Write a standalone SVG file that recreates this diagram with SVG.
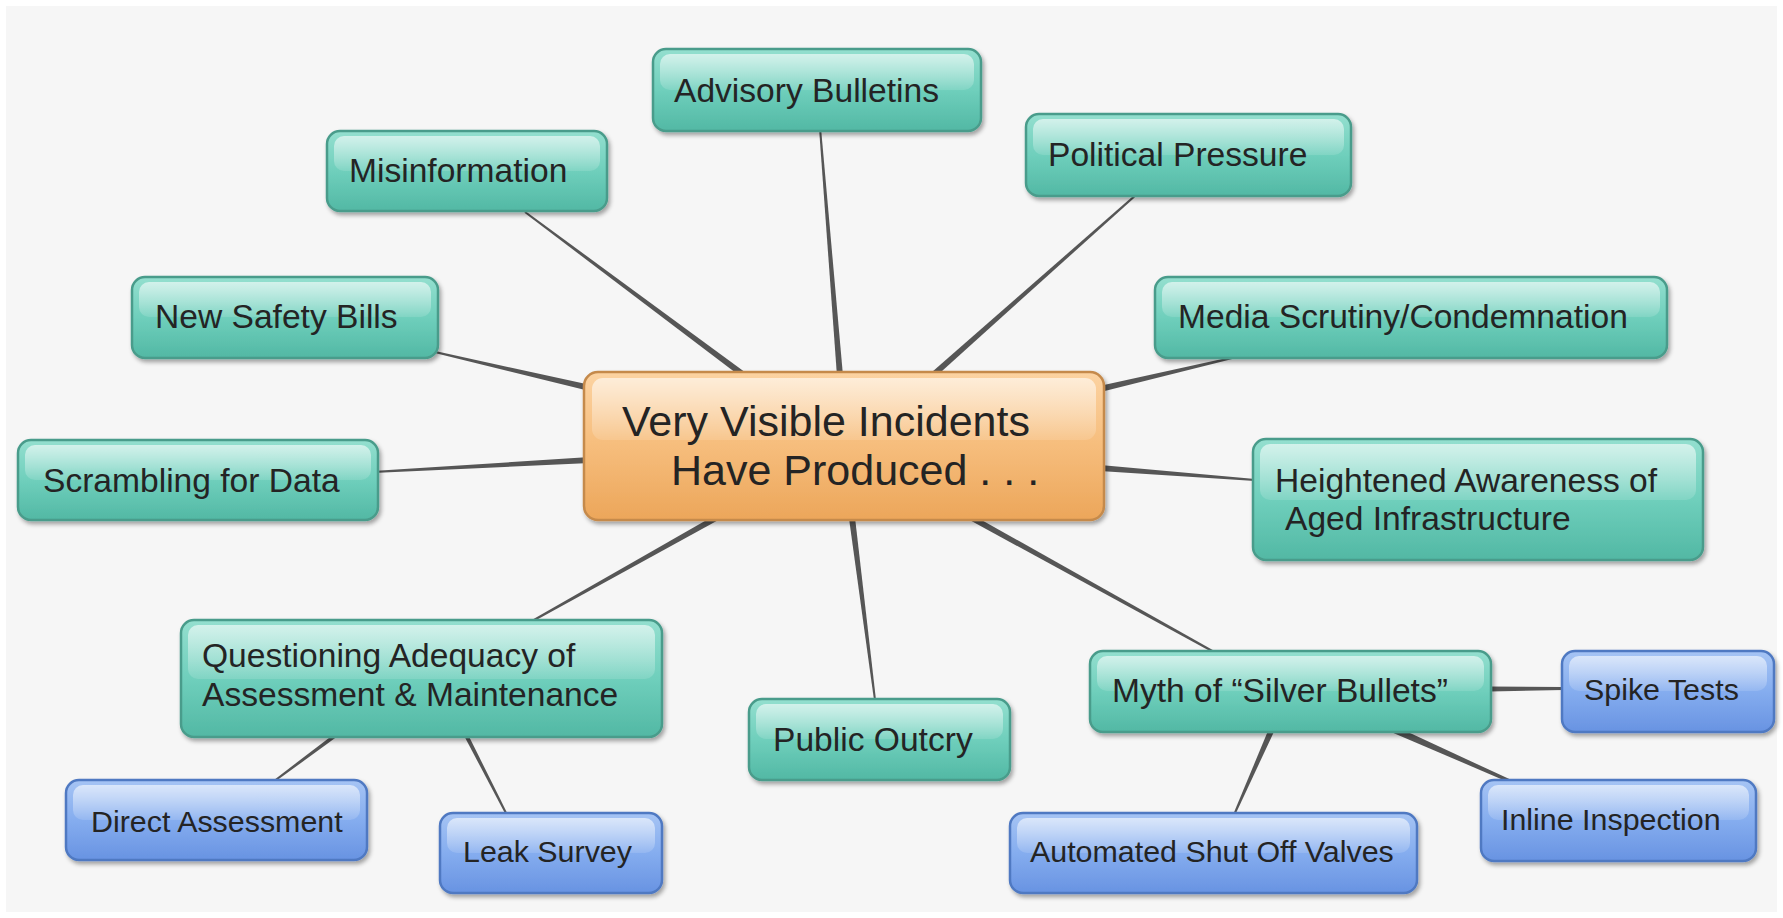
<svg xmlns="http://www.w3.org/2000/svg" width="1783" height="918" viewBox="0 0 1783 918">
  <defs>
    <linearGradient id="tealFill" x1="0" y1="0" x2="0" y2="1">
      <stop offset="0" stop-color="#94dfcf"/>
      <stop offset="0.5" stop-color="#6fcfbc"/>
      <stop offset="1" stop-color="#52b8a4"/>
    </linearGradient>
    <linearGradient id="blueFill" x1="0" y1="0" x2="0" y2="1">
      <stop offset="0" stop-color="#a6c4f4"/>
      <stop offset="0.5" stop-color="#85adef"/>
      <stop offset="1" stop-color="#6893e2"/>
    </linearGradient>
    <linearGradient id="orangeFill" x1="0" y1="0" x2="0" y2="1">
      <stop offset="0" stop-color="#fcd3a2"/>
      <stop offset="0.5" stop-color="#f6bd7c"/>
      <stop offset="1" stop-color="#eca65a"/>
    </linearGradient>
    <linearGradient id="gloss" x1="0" y1="0" x2="0" y2="1">
      <stop offset="0" stop-color="#ffffff" stop-opacity="0.6"/>
      <stop offset="1" stop-color="#ffffff" stop-opacity="0.12"/>
    </linearGradient>
    <filter id="shadow" x="-10%" y="-10%" width="120%" height="140%">
      <feDropShadow dx="2" dy="3" stdDeviation="2" flood-color="#000" flood-opacity="0.35"/>
    </filter>
  </defs>
  <style>
    .teal { fill: url(#tealFill); stroke: #4a9c8b; stroke-width: 2.5; filter: url(#shadow); }
    .blue { fill: url(#blueFill); stroke: #4f79c2; stroke-width: 2.5; filter: url(#shadow); }
    .orange { fill: url(#orangeFill); stroke: #c58a4c; stroke-width: 2.5; filter: url(#shadow); }
    .gloss { fill: url(#gloss); }
    .lbl { font-family: "Liberation Sans", Arial, sans-serif; fill: #242424; }
    .t33 { font-size: 33.6px; }
    .t30 { font-size: 30.4px; }
    .t42 { font-size: 43px; }
    .wire { fill: #565656; }
  </style>

  <!-- paper background -->
  <rect x="0" y="0" width="1783" height="918" fill="#ffffff"/>
  <rect x="6" y="6" width="1771" height="906" fill="#f6f6f6"/>

  <!-- tapered connectors, thick at the hub end -->
  <g id="connectors" class="wire">
    <polygon points="524.4,212.8 743.2,378.4 746.8,373.6 525.6,211.2"/>
    <polygon points="819,128.1 837,376.2 843,375.8 821,127.9"/>
    <polygon points="1136.3,193.3 930,373.8 934,378.2 1137.7,194.7"/>
    <polygon points="434.8,353 589.3,390.9 590.7,385.1 435.2,351"/>
    <polygon points="1235.8,356 1099.3,386.1 1100.7,391.9 1236.2,358"/>
    <polygon points="373.1,473 590.2,463 589.8,457 372.9,471"/>
    <polygon points="1255.1,479 1100.2,465 1099.8,471 1254.9,481"/>
    <polygon points="534.5,620.9 717.5,520.6 714.5,515.4 533.5,619.1"/>
    <polygon points="876,699.9 855,517.6 849,518.4 874,700.1"/>
    <polygon points="1214.5,651.1 973.5,515.4 970.5,520.6 1213.5,652.9"/>
    <polygon points="1563,687 1490,686.5 1490,691.5 1563,690"/>
    <polygon points="1234.9,815.4 1274.7,730.2 1269.3,727.8 1233.1,814.6"/>
    <polygon points="1512.6,780.6 1394.4,725.8 1391.6,732.2 1511.4,783.4"/>
    <polygon points="273.6,782.8 337.2,736.6 334.8,733.4 272.4,781.2"/>
    <polygon points="507.9,814.5 467.8,734.1 464.2,735.9 506.1,815.5"/>
  </g>

  <g id="advisory-bulletins">
    <rect class="teal" x="653" y="49" width="328" height="82" rx="13"/>
    <rect class="gloss" x="660" y="54" width="314" height="36" rx="10"/>
    <text class="lbl t33" x="674" y="102">Advisory Bulletins</text>
  </g>

  <g id="misinformation">
    <rect class="teal" x="327" y="131" width="280" height="80" rx="13"/>
    <rect class="gloss" x="334" y="136" width="266" height="35" rx="10"/>
    <text class="lbl t33" x="349" y="182">Misinformation</text>
  </g>

  <g id="political-pressure">
    <rect class="teal" x="1026" y="114" width="325" height="82" rx="13"/>
    <rect class="gloss" x="1033" y="119" width="311" height="36" rx="10"/>
    <text class="lbl t33" x="1048" y="166">Political Pressure</text>
  </g>

  <g id="new-safety-bills">
    <rect class="teal" x="132" y="277" width="306" height="81" rx="13"/>
    <rect class="gloss" x="139" y="282" width="292" height="35" rx="10"/>
    <text class="lbl t33" x="155" y="328">New Safety Bills</text>
  </g>

  <g id="media-scrutiny">
    <rect class="teal" x="1155" y="277" width="512" height="81" rx="13"/>
    <rect class="gloss" x="1162" y="282" width="498" height="35" rx="10"/>
    <text class="lbl t33" x="1178" y="328">Media Scrutiny/Condemnation</text>
  </g>

  <g id="scrambling-for-data">
    <rect class="teal" x="18" y="440" width="360" height="80" rx="13"/>
    <rect class="gloss" x="25" y="445" width="346" height="35" rx="10"/>
    <text class="lbl t33" x="43" y="492">Scrambling for Data</text>
  </g>

  <g id="central-topic">
    <rect class="orange" x="584" y="372" width="520" height="148" rx="14"/>
    <rect class="gloss" x="592" y="378" width="504" height="62" rx="11"/>
    <text class="lbl t42" x="622" y="436">Very Visible Incidents</text>
    <text class="lbl t42" x="671" y="485">Have Produced . . .</text>
  </g>

  <g id="heightened-awareness">
    <rect class="teal" x="1253" y="439" width="450" height="121" rx="13"/>
    <rect class="gloss" x="1260" y="444" width="436" height="56" rx="10"/>
    <text class="lbl t33" x="1275" y="492">Heightened Awareness of</text>
    <text class="lbl t33" x="1285" y="530">Aged Infrastructure</text>
  </g>

  <g id="questioning-adequacy">
    <rect class="teal" x="181" y="620" width="481" height="117" rx="13"/>
    <rect class="gloss" x="188" y="625" width="467" height="54" rx="10"/>
    <text class="lbl t33" x="202" y="667">Questioning Adequacy of</text>
    <text class="lbl t33" x="202" y="706">Assessment &amp; Maintenance</text>
  </g>

  <g id="public-outcry">
    <rect class="teal" x="749" y="699" width="261" height="81" rx="13"/>
    <rect class="gloss" x="756" y="704" width="247" height="35" rx="10"/>
    <text class="lbl t33" x="773" y="751">Public Outcry</text>
  </g>

  <g id="silver-bullets">
    <rect class="teal" x="1090" y="651" width="401" height="81" rx="13"/>
    <rect class="gloss" x="1097" y="656" width="387" height="35" rx="10"/>
    <text class="lbl t33" x="1112" y="702">Myth of “Silver Bullets”</text>
  </g>

  <g id="spike-tests">
    <rect class="blue" x="1562" y="651" width="212" height="81" rx="13"/>
    <rect class="gloss" x="1569" y="656" width="198" height="35" rx="10"/>
    <text class="lbl t30" x="1584" y="700">Spike Tests</text>
  </g>

  <g id="direct-assessment">
    <rect class="blue" x="66" y="780" width="301" height="80" rx="13"/>
    <rect class="gloss" x="73" y="785" width="287" height="35" rx="10"/>
    <text class="lbl t30" x="91" y="832">Direct Assessment</text>
  </g>

  <g id="leak-survey">
    <rect class="blue" x="440" y="813" width="222" height="80" rx="13"/>
    <rect class="gloss" x="447" y="818" width="208" height="35" rx="10"/>
    <text class="lbl t30" x="463" y="862">Leak Survey</text>
  </g>

  <g id="shut-off-valves">
    <rect class="blue" x="1010" y="813" width="407" height="80" rx="13"/>
    <rect class="gloss" x="1017" y="818" width="393" height="35" rx="10"/>
    <text class="lbl t30" x="1030" y="862">Automated Shut Off Valves</text>
  </g>

  <g id="inline-inspection">
    <rect class="blue" x="1481" y="780" width="275" height="81" rx="13"/>
    <rect class="gloss" x="1488" y="785" width="261" height="35" rx="10"/>
    <text class="lbl t30" x="1501" y="830">Inline Inspection</text>
  </g>
</svg>
